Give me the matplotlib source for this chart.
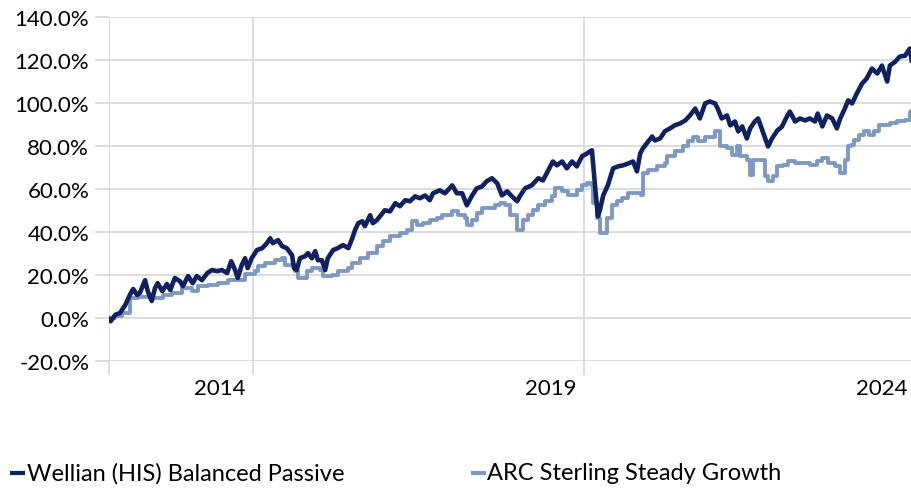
import matplotlib
matplotlib.use("Agg")
import matplotlib.pyplot as plt
from matplotlib.lines import Line2D
import numpy as np

# Wellian (HIS) Balanced Passive - cumulative return (%), x in decimal years
wellian_year = [2012.81, 2012.85, 2012.92, 2012.99, 2013.07, 2013.14, 2013.19, 2013.25, 2013.29, 2013.37,
                2013.41, 2013.47, 2013.52, 2013.56, 2013.63, 2013.70, 2013.75, 2013.82, 2013.90, 2013.94,
                2014.02, 2014.09, 2014.15, 2014.23, 2014.31, 2014.38, 2014.46, 2014.53, 2014.61, 2014.67,
                2014.73, 2014.77, 2014.83, 2014.88, 2014.92, 2014.98, 2015.06, 2015.14, 2015.21, 2015.26,
                2015.30, 2015.38, 2015.44, 2015.51, 2015.59, 2015.62, 2015.66, 2015.71, 2015.79, 2015.83,
                2015.89, 2015.94, 2015.98, 2016.04, 2016.09, 2016.13, 2016.21, 2016.28, 2016.36, 2016.44,
                2016.50, 2016.54, 2016.59, 2016.65, 2016.69, 2016.77, 2016.81, 2016.87, 2016.95, 2016.99,
                2017.07, 2017.15, 2017.22, 2017.30, 2017.37, 2017.45, 2017.52, 2017.60, 2017.67, 2017.72,
                2017.82, 2017.90, 2018.01, 2018.08, 2018.16, 2018.23, 2018.31, 2018.38, 2018.46, 2018.53,
                2018.61, 2018.69, 2018.76, 2018.84, 2018.91, 2018.99, 2019.03, 2019.11, 2019.21, 2019.31,
                2019.38, 2019.46, 2019.53, 2019.59, 2019.67, 2019.74, 2019.82, 2019.89, 2019.97, 2020.05,
                2020.09, 2020.12, 2020.17, 2020.21, 2020.24, 2020.29, 2020.36, 2020.44, 2020.51, 2020.59,
                2020.67, 2020.74, 2020.80, 2020.85, 2020.89, 2020.97, 2021.03, 2021.07, 2021.15, 2021.22,
                2021.30, 2021.37, 2021.45, 2021.53, 2021.60, 2021.68, 2021.75, 2021.83, 2021.90, 2021.98,
                2022.02, 2022.08, 2022.16, 2022.21, 2022.28, 2022.33, 2022.39, 2022.46, 2022.51, 2022.58,
                2022.63, 2022.70, 2022.78, 2022.84, 2022.92, 2022.99, 2023.07, 2023.11, 2023.19, 2023.26,
                2023.34, 2023.41, 2023.49, 2023.53, 2023.60, 2023.67, 2023.75, 2023.82, 2023.87, 2023.94,
                2023.99, 2024.05, 2024.12, 2024.20, 2024.27, 2024.35, 2024.43, 2024.50, 2024.58, 2024.62,
                2024.70, 2024.77, 2024.85, 2024.92, 2024.95]
wellian_ret = [0.0, -1.5, 1.5, 2.3, 6.0, 10.7, 13.5, 10.7, 11.6, 17.6,
               12.5, 7.9, 13.9, 16.2, 12.5, 15.8, 13.0, 18.6, 17.0, 14.8,
               19.5, 16.2, 19.5, 17.6, 20.9, 22.3, 21.8, 22.3, 20.9, 26.4,
               22.3, 18.6, 24.6, 27.8, 23.2, 27.8, 31.6, 32.5, 34.8, 37.1,
               34.8, 36.2, 33.4, 32.5, 29.2, 23.2, 22.3, 27.8, 28.8, 30.2,
               27.8, 31.1, 26.9, 26.9, 22.3, 27.8, 31.6, 32.5, 33.9, 32.5,
               37.1, 40.8, 44.1, 45.0, 42.7, 47.8, 44.1, 45.5, 48.5, 50.1,
               49.6, 53.4, 52.0, 54.8, 54.3, 56.6, 55.7, 57.0, 54.8, 58.0,
               59.4, 58.0, 61.7, 58.0, 58.0, 52.4, 57.0, 60.3, 61.2, 63.6,
               65.0, 62.6, 57.0, 58.9, 56.6, 54.3, 56.6, 60.3, 61.7, 65.0,
               64.0, 68.7, 72.8, 71.0, 72.8, 69.6, 72.8, 70.5, 75.2, 76.6,
               77.5, 78.0, 60.3, 47.3, 50.1, 57.0, 61.7, 69.6, 70.5, 71.0,
               71.9, 72.8, 68.2, 76.6, 78.9, 82.1, 84.4, 82.6, 83.5, 86.8,
               88.2, 89.6, 90.5, 91.9, 94.2, 97.4, 92.8, 99.8, 100.7, 99.8,
               97.4, 92.8, 94.2, 89.6, 91.4, 86.8, 89.1, 83.5, 88.2, 91.4,
               92.8, 86.8, 79.8, 83.5, 87.2, 89.0, 94.0, 96.0, 91.4, 92.8,
               91.9, 92.8, 91.4, 95.1, 89.1, 94.2, 92.8, 88.2, 92.8, 97.4,
               101.2, 99.8, 104.4, 109.0, 111.4, 116.0, 113.7, 117.4, 110.0, 117.4,
               119.2, 121.6, 122.0, 125.3, 119.7]

# ARC Sterling Steady Growth - cumulative return (%), monthly steps
arc_year = [2012.81, 2012.92, 2013.02, 2013.14, 2013.26, 2013.41, 2013.49, 2013.64, 2013.78, 2013.93,
            2014.08, 2014.17, 2014.32, 2014.47, 2014.62, 2014.76, 2014.88, 2015.03, 2015.08, 2015.18,
            2015.33, 2015.44, 2015.48, 2015.63, 2015.68, 2015.82, 2015.89, 2016.01, 2016.06, 2016.19,
            2016.28, 2016.44, 2016.50, 2016.62, 2016.74, 2016.87, 2016.96, 2017.07, 2017.22, 2017.33,
            2017.40, 2017.48, 2017.57, 2017.67, 2017.78, 2017.86, 2018.01, 2018.10, 2018.20, 2018.23,
            2018.31, 2018.38, 2018.46, 2018.66, 2018.73, 2018.81, 2018.88, 2018.99, 2019.08, 2019.15,
            2019.23, 2019.31, 2019.41, 2019.52, 2019.56, 2019.67, 2019.76, 2019.89, 2019.97, 2020.05,
            2020.11, 2020.14, 2020.20, 2020.24, 2020.35, 2020.42, 2020.50, 2020.57, 2020.67, 2020.86,
            2020.89, 2020.97, 2021.10, 2021.22, 2021.25, 2021.37, 2021.50, 2021.57, 2021.65, 2021.72,
            2021.83, 2021.98, 2022.05, 2022.16, 2022.24, 2022.31, 2022.36, 2022.46, 2022.51, 2022.55,
            2022.66, 2022.73, 2022.78, 2022.86, 2022.92, 2023.01, 2023.08, 2023.19, 2023.31, 2023.41,
            2023.52, 2023.60, 2023.69, 2023.79, 2023.87, 2023.94, 2023.99, 2024.03, 2024.08, 2024.15,
            2024.23, 2024.31, 2024.38, 2024.46, 2024.62, 2024.73, 2024.85, 2024.92, 2024.95]
arc_ret = [0.0, 1.0, 2.3, 9.3, 10.0, 10.0, 9.3, 10.7, 11.6, 13.9,
           12.5, 14.8, 15.3, 16.2, 17.6, 17.6, 20.4, 21.8, 24.1, 25.5,
           26.9, 27.8, 24.6, 21.8, 18.6, 21.8, 23.2, 22.3, 19.5, 20.0,
           21.8, 23.2, 25.5, 27.8, 30.2, 33.4, 36.0, 38.0, 39.4, 40.8,
           45.0, 43.2, 44.1, 45.5, 46.4, 47.8, 49.6, 47.8, 46.4, 43.2,
           45.5, 48.7, 51.0, 52.4, 53.4, 52.4, 47.8, 40.8, 45.5, 47.8,
           50.1, 52.4, 54.3, 56.6, 60.3, 58.9, 57.0, 59.4, 61.7, 62.6,
           61.7, 53.4, 46.4, 39.4, 46.4, 52.4, 54.3, 55.7, 58.0, 57.0,
           67.3, 68.7, 70.5, 71.9, 75.2, 77.5, 79.8, 82.1, 84.4, 82.1,
           84.4, 87.2, 79.8, 78.9, 75.6, 79.8, 75.2, 73.3, 66.4, 73.3,
           73.3, 65.9, 63.6, 65.9, 70.5, 71.0, 72.8, 71.9, 71.9, 71.0,
           72.8, 74.2, 71.9, 70.5, 67.3, 73.3, 79.8, 80.3, 82.6, 84.9,
           86.8, 84.9, 87.2, 89.6, 90.5, 91.4, 91.9, 96.0, 96.5]

year_labels = ["2014", "2019", "2024"]
label_pos = [2014.5, 2019.5, 2024.5]
tick_pos = [2012.825, 2015, 2020, 2025]
y_ticks = [-20, 0, 20, 40, 60, 80, 100, 120, 140]
series_names = ["Wellian (HIS) Balanced Passive", "ARC Sterling Steady Growth"]

dark = "#0f2160"
light = "#7d99c3"
grid_col = "#d9d9d9"

plt.rcParams['font.family'] = ['Lato', 'DejaVu Sans']

fig = plt.figure(figsize=(9.12, 4.89), dpi=100)
ax = fig.add_axes([109/912, 1 - 362/489, 806/912, 344/489])

ax.plot(arc_year, arc_ret, color=light, lw=2.8, drawstyle="steps-post", zorder=3)
ax.plot(wellian_year, wellian_ret, color=dark, lw=3.3, zorder=4, solid_joinstyle="round")

ax.set_xlim(2012.825, 2025.0)
ax.set_ylim(-20, 140)

ax.set_xticks(tick_pos)
ax.set_xticklabels([""] * len(tick_pos))
ax.set_xticks(label_pos, minor=True)
ax.set_xticklabels(year_labels, minor=True)
ax.tick_params(axis="x", which="major", length=10, width=1.3, color=grid_col)
ax.tick_params(axis="x", which="minor", length=0, pad=12.5, labelsize=16, labelcolor="black")

ax.set_yticks(y_ticks)
ax.set_yticklabels([f"{v:.1f}%" for v in y_ticks])
ax.tick_params(axis="y", length=10, width=1.3, color=grid_col, pad=4.3, labelsize=16, labelcolor="black")

ax.grid(True, which="major", color=grid_col, lw=1.3)
ax.set_axisbelow(True)
for s in ax.spines.values():
    s.set_visible(False)

# legend drawn by hand along the bottom
ly = 1 - 474/489
for (x0, x1, xt), col, name in zip([(10, 25, 27), (471, 486, 487)], [dark, light], series_names):
    fig.add_artist(Line2D([x0/912, x1/912], [ly, ly], color=col, lw=3, solid_capstyle="butt",
                          transform=fig.transFigure))
    fig.text(xt/912, ly, name, fontsize=17, va="center", ha="left", color="black")

fig.savefig("out.png", dpi=100)
